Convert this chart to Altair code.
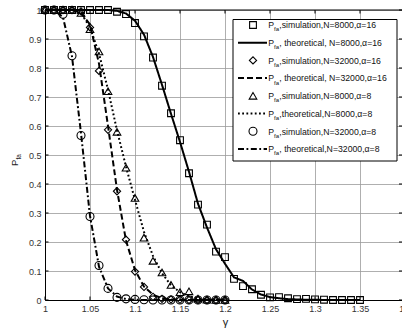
import altair as alt
import pandas as pd

FONT = "Liberation Sans"

# detection threshold gamma (x) and false-alarm probability P_fa (y)
gamma_long = [1.00, 1.01, 1.02, 1.03, 1.04, 1.05, 1.06, 1.07, 1.08, 1.09,
              1.10, 1.11, 1.12, 1.13, 1.14, 1.15, 1.16, 1.17, 1.18, 1.19,
              1.20, 1.21, 1.22, 1.23, 1.24, 1.25, 1.26, 1.27, 1.28, 1.29,
              1.30, 1.31, 1.32, 1.33, 1.34, 1.35]
gamma_short = [1.00, 1.01, 1.02, 1.03, 1.04, 1.05, 1.06, 1.07, 1.08, 1.09,
               1.10, 1.11, 1.12, 1.13, 1.14, 1.15, 1.16, 1.17, 1.18, 1.19,
               1.20]

# N=8000, alpha=16
sim_n8000_a16 = [1.0, 1.0, 1.0, 1.0, 1.0, 1.0, 1.0, 1.0, 0.994, 0.986,
                 0.955, 0.909, 0.836, 0.739, 0.644, 0.551, 0.437, 0.329, 0.26, 0.167,
                 0.148, 0.073, 0.048, 0.037, 0.018, 0.009, 0.010, 0.006, 0.003, 0.004,
                 0.002, 0.001, 0.0, 0.0, 0.0, 0.0]
theo_n8000_a16 = [1.0, 1.0, 1.0, 1.0, 1.0, 1.0, 1.0, 1.0, 0.997, 0.988,
                  0.963, 0.915, 0.838, 0.742, 0.642, 0.545, 0.442, 0.332, 0.25, 0.175,
                  0.125, 0.078, 0.066, 0.036, 0.019, 0.01, 0.006, 0.003, 0.002, 0.001,
                  0.001, 0.0, 0.0, 0.0, 0.0, 0.0]
# N=32000, alpha=16
sim_n32000_a16 = [1.0, 1.0, 1.0, 1.0, 0.995, 0.94, 0.79, 0.587, 0.375, 0.208,
                  0.098, 0.045, 0.011, 0.004, 0.002, 0.001, 0.0, 0.0, 0.0, 0.0,
                  0.0]
theo_n32000_a16 = [1.0, 1.0, 1.0, 1.0, 0.99, 0.95, 0.815, 0.6, 0.38, 0.205,
                   0.103, 0.046, 0.018, 0.006, 0.002, 0.001, 0.0, 0.0, 0.0, 0.0,
                   0.0]
# N=8000, alpha=8
sim_n8000_a8 = [1.0, 1.0, 1.0, 1.0, 0.99, 0.934, 0.857, 0.72, 0.58, 0.456,
                0.352, 0.215, 0.135, 0.095, 0.052, 0.027, 0.03, 0.005, 0.001, 0.0,
                0.0]
theo_n8000_a8 = [1.0, 1.0, 1.0, 1.0, 0.99, 0.94, 0.85, 0.725, 0.585, 0.46,
                 0.345, 0.235, 0.152, 0.092, 0.051, 0.027, 0.013, 0.006, 0.002, 0.001,
                 0.0]
# N=32000, alpha=8
sim_n32000_a8 = [1.0, 1.0, 0.985, 0.842, 0.567, 0.288, 0.119, 0.04, 0.009, 0.004,
                 0.002, 0.001, 0.0, 0.0, 0.0, 0.0, 0.0, 0.0, 0.0, 0.0,
                 0.0]
theo_n32000_a8 = [1.0, 1.0, 0.975, 0.84, 0.575, 0.29, 0.115, 0.04, 0.012, 0.003,
                  0.001, 0.0, 0.0, 0.0, 0.0, 0.0, 0.0, 0.0, 0.0, 0.0,
                  0.0]

series_keys = ["s1", "t1", "s2", "t2", "s3", "t3", "s4", "t4"]
series_kind = ["sim", "theo", "sim", "theo", "sim", "theo", "sim", "theo"]
legend_rest = [",simulation,N=8000,α=16",
               ", theoretical, N=8000,α=16",
               ",simulation,N=32000,α=16",
               ", theoretical, N=32000,α=16",
               ",simulation,N=8000,α=8",
               ",theoretical,N=8000,α=8",
               ",simulation,N=32000,α=8",
               ", theoretical,N=32000,α=8"]

x_ticks = [1, 1.05, 1.1, 1.15, 1.2, 1.25, 1.3, 1.35, 1.4]
y_ticks = [0, 0.1, 0.2, 0.3, 0.4, 0.5, 0.6, 0.7, 0.8, 0.9, 1]

sim_keys = ["s1", "s2", "s3", "s4"]
theo_keys = ["t1", "t2", "t3", "t4"]
marker_shapes = ["square", "diamond", "triangle-up", "circle"]
marker_sizes = [46, 64, 58, 46]
line_dashes = [[1, 0], [6, 3], [1.8, 2.4], [6, 2.5, 1.8, 2.5]]


def frame(key, xs, ys):
    return pd.DataFrame({"gamma": xs, "pfa": ys, "series": key})


sim_df = pd.concat([
    frame("s1", gamma_long, sim_n8000_a16),
    frame("s2", gamma_short, sim_n32000_a16),
    frame("s3", gamma_short, sim_n8000_a8),
    frame("s4", gamma_short, sim_n32000_a8),
])
theo_df = pd.concat([
    frame("t1", gamma_long, theo_n8000_a16),
    frame("t2", gamma_short, theo_n32000_a16),
    frame("t3", gamma_short, theo_n8000_a8),
    frame("t4", gamma_short, theo_n32000_a8),
])
legend_df = pd.DataFrame({"series": series_keys, "kind": series_kind,
                          "rest": legend_rest, "row": list(range(8))})
xt_df = pd.DataFrame({"v": x_ticks})
yt_df = pd.DataFrame({"v": y_ticks})

x_scale = alt.Scale(domain=[1, 1.4], range=[0, 360], nice=False, zero=False)
y_scale = alt.Scale(domain=[0, 1], nice=False, zero=False)

shape_enc = alt.Shape("series:N", scale=alt.Scale(domain=sim_keys, range=marker_shapes), legend=None)
size_enc = alt.Size("series:O", scale=alt.Scale(domain=sim_keys, range=marker_sizes), legend=None)
dash_enc = alt.StrokeDash("series:N", scale=alt.Scale(domain=theo_keys, range=line_dashes), legend=None)

# one axis definition shared by every layer that uses the x / y scales
x_axis = alt.Axis(values=x_ticks, format="~g", title="γ", ticks=False,
                  domain=True, domainColor="black", domainWidth=1,
                  grid=True, gridColor="#9a9a9a", gridWidth=0.8,
                  labelFont=FONT, labelFontSize=9, labelColor="#333333",
                  labelPadding=4, labelFlush=False, labelOverlap=False,
                  titleFont=FONT, titleFontSize=11, titleFontWeight="normal",
                  titleColor="#222222", titlePadding=3)
y_axis = alt.Axis(values=y_ticks, format="~g", title=None, ticks=False,
                  domain=True, domainColor="black", domainWidth=1,
                  grid=True, gridColor="#9a9a9a", gridWidth=0.8,
                  labelFont=FONT, labelFontSize=9, labelColor="#333333",
                  labelPadding=4, labelFlush=False, labelOverlap=False)


def xq(field):
    return alt.X(field, type="quantitative", scale=x_scale, axis=x_axis)


def yq(field):
    return alt.Y(field, type="quantitative", scale=y_scale, axis=y_axis)


lines = alt.Chart(theo_df).mark_line(color="black", strokeWidth=2).encode(
    x=xq("gamma"), y=yq("pfa"), strokeDash=dash_enc, detail="series:N")
points = alt.Chart(sim_df).mark_point(filled=False, color="black", strokeWidth=1.1, opacity=1).encode(
    x=xq("gamma"), y=yq("pfa"), shape=shape_enc, size=size_enc)

# box outline: top edge plus inward ticks on all four sides
top_edge = alt.Chart(yt_df.head(1)).mark_rule(color="black", strokeWidth=1).encode(
    y=alt.value(0), x=alt.value(0), x2=alt.value(357))
ticks_top = alt.Chart(xt_df).mark_rule(color="black", strokeWidth=1).encode(
    x=xq("v"), y=alt.value(0), y2=alt.value(3.5))
ticks_bottom = alt.Chart(xt_df).mark_rule(color="black", strokeWidth=1).encode(
    x=xq("v"), y=alt.value(286.5), y2=alt.value(290))
ticks_left = alt.Chart(yt_df).mark_rule(color="black", strokeWidth=1).encode(
    y=yq("v"), x=alt.value(0), x2=alt.value(3.5))
ticks_right = alt.Chart(yt_df).mark_rule(color="black", strokeWidth=1).encode(
    y=yq("v"), x=alt.value(354), x2=alt.value(357))

# legend
leg_base = alt.Chart(legend_df).transform_calculate(
    ly="15 + 17.7 * datum.row", tb="18.3 + 17.7 * datum.row", sb="21.4 + 17.7 * datum.row")
legend_box = alt.Chart(yt_df.head(1)).mark_rect(fill="white", stroke="black", strokeWidth=1).encode(
    x=alt.value(188), x2=alt.value(352), y=alt.value(9.5), y2=alt.value(151))
legend_marks = leg_base.transform_filter("datum.kind == 'sim'").mark_point(
    filled=False, color="black", strokeWidth=1.1, opacity=1).encode(
    x=alt.value(208), y=alt.Y("ly:Q", scale=None, axis=None), shape=shape_enc, size=size_enc)
legend_lines = leg_base.transform_filter("datum.kind == 'theo'").mark_rule(
    color="black", strokeWidth=2).encode(
    x=alt.value(193), x2=alt.value(222), y=alt.Y("ly:Q", scale=None, axis=None), strokeDash=dash_enc)
legend_p = leg_base.mark_text(text="P", align="left", baseline="alphabetic", font=FONT,
                              fontSize=8.7, color="#111111").encode(
    x=alt.value(223.3), y=alt.Y("tb:Q", scale=None, axis=None))
legend_sub = leg_base.mark_text(text="fa", align="left", baseline="alphabetic", font=FONT,
                                fontSize=6, color="#111111").encode(
    x=alt.value(229), y=alt.Y("sb:Q", scale=None, axis=None))
legend_txt = leg_base.mark_text(align="left", baseline="alphabetic", font=FONT,
                                fontSize=8.7, color="#111111").encode(
    x=alt.value(234.3), y=alt.Y("tb:Q", scale=None, axis=None), text="rest:N")

# rotated y-axis title P_fa
ytitle_p = alt.Chart(yt_df.head(1)).mark_text(text="P", angle=270, align="left", baseline="alphabetic",
                                              font=FONT, fontSize=9.5, color="#222222").encode(
    x=alt.value(-27.5), y=alt.value(156))
ytitle_sub = alt.Chart(yt_df.head(1)).mark_text(text="fa", angle=270, align="left", baseline="alphabetic",
                                                font=FONT, fontSize=6.5, color="#222222").encode(
    x=alt.value(-24.5), y=alt.value(149.5))

chart = alt.layer(
    lines, points, top_edge, ticks_top, ticks_bottom, ticks_left, ticks_right,
    legend_box, legend_marks, legend_lines, legend_p, legend_sub, legend_txt,
    ytitle_p, ytitle_sub,
).properties(
    width=357, height=290,
    autosize=alt.AutoSizeParams(type="none"),
    padding={"left": 45, "top": 10, "right": 0, "bottom": 31},
    background="white",
).configure_view(stroke=None)

chart.save("out.html", embed_options={"renderer": "svg", "actions": False})
